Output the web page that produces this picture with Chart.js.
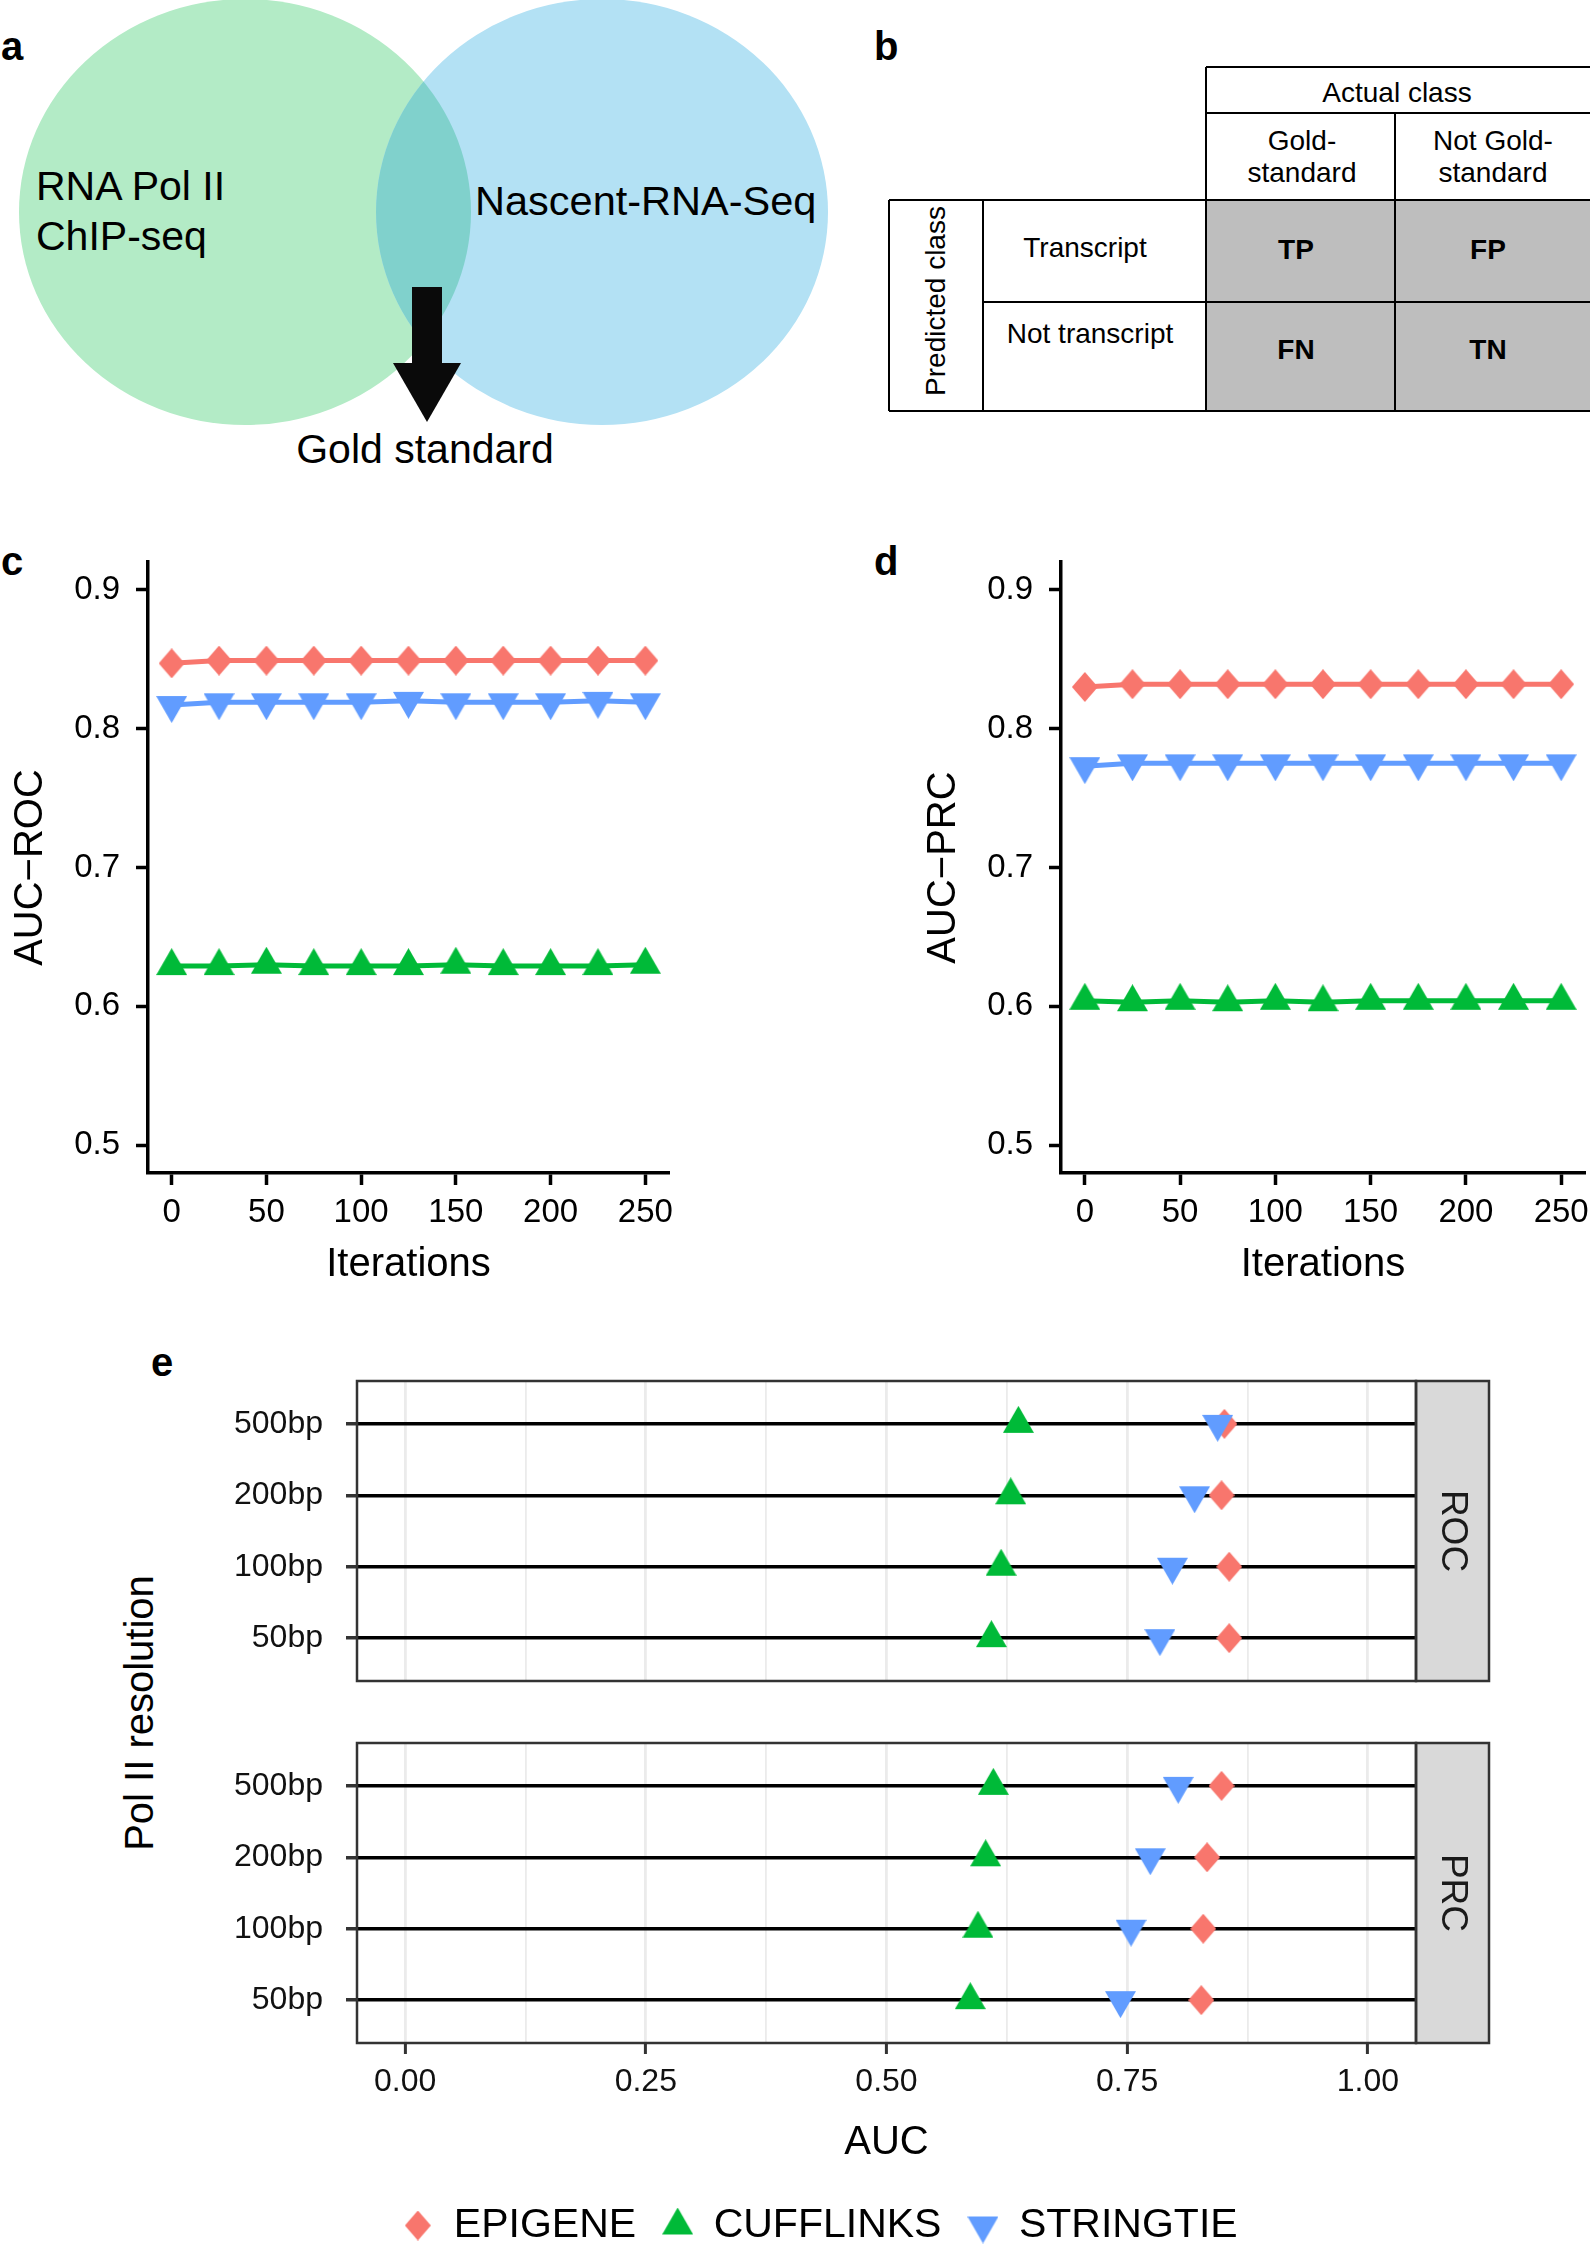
<!DOCTYPE html>
<html>
<head>
<meta charset="utf-8">
<script src="https://cdn.jsdelivr.net/npm/chart.js@4.4.1/dist/chart.umd.min.js"></script>
<style>
  html, body { margin: 0; padding: 0; background: #fff; }
  body { width: 1590px; height: 2245px; position: relative; overflow: hidden; font-family: "Liberation Sans", Arial, sans-serif; }
  canvas { position: absolute; }
  #art { position: absolute; left: 0; top: 0; font-family: "Liberation Sans", Arial, sans-serif; }
</style>
</head>
<body>
<svg id="art" width="1590" height="2245">
  <defs>
    <clipPath id="clipGreen"><ellipse cx="245" cy="212" rx="226" ry="213"/></clipPath>
  </defs>
  <!-- a: venn -->
  <ellipse cx="245" cy="212" rx="226" ry="213" fill="#b3ebc6"/>
  <ellipse cx="602" cy="212" rx="226" ry="213" fill="#b3e1f4"/>
  <ellipse cx="602" cy="212" rx="226" ry="213" fill="#80d1cc" clip-path="url(#clipGreen)"/>
  <rect x="412" y="287" width="30" height="78" fill="#0a0a0a"/>
  <polygon points="393,363 461,363 427,422" fill="#0a0a0a"/>
  <text x="36" y="186" font-size="41" dominant-baseline="central">RNA Pol II</text>
  <text x="36" y="236" font-size="41" dominant-baseline="central">ChIP-seq</text>
  <text x="475" y="200" font-size="41.5" dominant-baseline="central">Nascent-RNA-Seq</text>
  <text x="425" y="449" font-size="41" text-anchor="middle" dominant-baseline="central">Gold standard</text>

  <!-- b: confusion table -->
  <rect x="1206" y="200" width="384" height="211" fill="#bebebe"/>
  <g stroke="#000" stroke-width="2">
    <line x1="1206" y1="67" x2="1590" y2="67"/>
    <line x1="1206" y1="113" x2="1590" y2="113"/>
    <line x1="889" y1="200" x2="1590" y2="200"/>
    <line x1="983" y1="302" x2="1590" y2="302"/>
    <line x1="889" y1="411" x2="1590" y2="411"/>
    <line x1="1206" y1="67" x2="1206" y2="411"/>
    <line x1="1395" y1="113" x2="1395" y2="411"/>
    <line x1="889" y1="200" x2="889" y2="411"/>
    <line x1="983" y1="200" x2="983" y2="411"/>
  </g>
  <g font-size="28" text-anchor="middle" dominant-baseline="central">
    <text x="1397" y="92">Actual class</text>
    <text x="1302" y="140">Gold-</text>
    <text x="1302" y="172">standard</text>
    <text x="1493" y="140">Not Gold-</text>
    <text x="1493" y="172">standard</text>
    <text x="1085" y="247">Transcript</text>
    <text x="1090" y="333">Not transcript</text>
    <text x="935" y="301" transform="rotate(-90 935 301)">Predicted class</text>
    <g font-weight="bold">
      <text x="1296" y="249">TP</text>
      <text x="1488" y="249">FP</text>
      <text x="1296" y="349">FN</text>
      <text x="1488" y="349">TN</text>
    </g>
  </g>

  <!-- panel letters -->
  <g font-size="40" font-weight="bold" dominant-baseline="central">
    <text x="1" y="46">a</text>
    <text x="874" y="46">b</text>
    <text x="1" y="561">c</text>
    <text x="874" y="561">d</text>
    <text x="151" y="1362">e</text>
  </g>
  <text x="139" y="1713" font-size="40" text-anchor="middle" dominant-baseline="central" transform="rotate(-90 139 1713)">Pol II resolution</text>
</svg>

<canvas id="rocLine" width="700" height="760" style="left:0;top:540px"></canvas>
<canvas id="prcLine" width="677" height="760" style="left:913px;top:540px"></canvas>
<canvas id="rocDots" width="1440" height="350" style="left:150px;top:1340px"></canvas>
<canvas id="prcDots" width="1540" height="556" style="left:50px;top:1700px"></canvas>

<script>
// panels c and d: AUC over iterations
const iterations = [0, 25, 50, 75, 100, 125, 150, 175, 200, 225, 250];
const iterTicks = [0, 50, 100, 150, 200, 250];
const lineYTicks = [0.5, 0.6, 0.7, 0.8, 0.9];

const rocEpigene   = [0.847, 0.849, 0.849, 0.849, 0.849, 0.849, 0.849, 0.849, 0.849, 0.849, 0.849];
const rocCufflinks = [0.629, 0.629, 0.630, 0.629, 0.629, 0.629, 0.630, 0.629, 0.629, 0.629, 0.630];
const rocStringtie = [0.817, 0.819, 0.819, 0.819, 0.819, 0.820, 0.819, 0.819, 0.819, 0.820, 0.819];

const prcEpigene   = [0.830, 0.832, 0.832, 0.832, 0.832, 0.832, 0.832, 0.832, 0.832, 0.832, 0.832];
const prcCufflinks = [0.604, 0.603, 0.604, 0.603, 0.604, 0.603, 0.604, 0.604, 0.604, 0.604, 0.604];
const prcStringtie = [0.773, 0.775, 0.775, 0.775, 0.775, 0.775, 0.775, 0.775, 0.775, 0.775, 0.775];

// panel e: AUC by Pol II resolution (bottom to top)
const resolutions = ['50bp', '100bp', '200bp', '500bp'];
const aucGrid = [0, 0.125, 0.25, 0.375, 0.5, 0.625, 0.75, 0.875, 1];

const resRocEpigene   = [0.856, 0.856, 0.848, 0.851];
const resRocCufflinks = [0.609, 0.619, 0.629, 0.637];
const resRocStringtie = [0.784, 0.797, 0.820, 0.844];

const resPrcEpigene   = [0.827, 0.829, 0.833, 0.848];
const resPrcCufflinks = [0.587, 0.595, 0.603, 0.611];
const resPrcStringtie = [0.743, 0.754, 0.774, 0.803];

Chart.defaults.font.family = '"Liberation Sans", Arial, sans-serif';
Chart.defaults.color = '#000';

const colors = { EPIGENE: '#F8766D', CUFFLINKS: '#00BA38', STRINGTIE: '#619CFF' };
// drawing order: stringtie on top, like ggplot
const drawOrder = { EPIGENE: 3, CUFFLINKS: 2, STRINGTIE: 1 };

// ggplot-like point shapes as small canvases (centred on the centroid)
function marker(shape, color) {
  const c = document.createElement('canvas');
  const w = shape === 'diamond' ? 26 : 31;
  const h = shape === 'diamond' ? 30 : 27;
  const H = shape === 'diamond' ? h : Math.round(h * 4 / 3);
  c.width = w; c.height = H;
  const g = c.getContext('2d');
  g.fillStyle = color;
  g.beginPath();
  if (shape === 'diamond') {
    g.moveTo(w / 2, 0); g.lineTo(w, h / 2); g.lineTo(w / 2, h); g.lineTo(0, h / 2);
  } else if (shape === 'up') {
    g.moveTo(w / 2, 0); g.lineTo(w, h); g.lineTo(0, h);
  } else {
    g.moveTo(0, H - h); g.lineTo(w, H - h); g.lineTo(w / 2, H);
  }
  g.closePath();
  g.fill();
  return c;
}
const shapes = {
  EPIGENE: marker('diamond', colors.EPIGENE),
  CUFFLINKS: marker('up', colors.CUFFLINKS),
  STRINGTIE: marker('down', colors.STRINGTIE)
};

const fixWidth = w => s => { s.width = w; s.paddingTop = 0; s.paddingBottom = 0; };
const fixHeight = h => s => { s.height = h; s.paddingLeft = 0; s.paddingRight = 0; };
const setTicks = vals => s => { s.ticks = vals.map(value => ({ value })); };
const isMajor = v => Math.abs(v * 4 - Math.round(v * 4)) < 1e-6;

function lineSet(name, ys) {
  return {
    label: name,
    data: iterations.map((x, i) => ({ x, y: ys[i] })),
    borderColor: colors[name],
    backgroundColor: colors[name],
    borderWidth: 5,
    pointStyle: shapes[name],
    pointRadius: 14,
    pointBorderWidth: 0,
    tension: 0,
    order: drawOrder[name]
  };
}

function iterChart(id, yTitle, epi, cuff, str, padRight) {
  return new Chart(document.getElementById(id), {
    type: 'line',
    data: { datasets: [lineSet('EPIGENE', epi), lineSet('CUFFLINKS', cuff), lineSet('STRINGTIE', str)] },
    options: {
      responsive: false,
      animation: false,
      layout: { autoPadding: false, padding: { top: 22, right: padRight, bottom: 0, left: 0 } },
      plugins: { legend: { display: false }, tooltip: { enabled: false } },
      scales: {
        x: {
          type: 'linear', min: -12.5, max: 262.5,
          afterBuildTicks: setTicks(iterTicks),
          afterFit: fixHeight(127),
          border: { color: '#000', width: 3.5 },
          grid: { drawOnChartArea: false, tickLength: 12, tickColor: '#000', tickWidth: 3.5 },
          ticks: { font: { size: 33 }, color: '#000', padding: 8, maxRotation: 0, minRotation: 0, autoSkip: false },
          title: { display: true, text: 'Iterations', font: { size: 40 }, color: '#000', padding: { top: 0, bottom: 11 } }
        },
        y: {
          type: 'linear', min: 0.48, max: 0.92,
          afterBuildTicks: setTicks(lineYTicks),
          afterFit: fixWidth(148),
          border: { color: '#000', width: 3.5 },
          grid: { drawOnChartArea: false, tickLength: 12, tickColor: '#000', tickWidth: 3.5 },
          ticks: { font: { size: 33 }, color: '#000', padding: 16, callback: v => v.toFixed(1) },
          title: { display: true, text: yTitle, font: { size: 40 }, color: '#000', padding: { top: 7, bottom: 0 } }
        }
      }
    }
  });
}

iterChart('rocLine', 'AUC\u2212ROC', rocEpigene, rocCufflinks, rocStringtie, 31);
iterChart('prcLine', 'AUC\u2212PRC', prcEpigene, prcCufflinks, prcStringtie, 5);

// facet frame + grey strip on the right
const facetStrip = {
  id: 'facetStrip',
  afterDraw(chart, args, o) {
    const { ctx, chartArea: a } = chart;
    ctx.save();
    ctx.fillStyle = '#d9d9d9';
    ctx.fillRect(a.right, a.top, o.width, a.bottom - a.top);
    ctx.lineWidth = 2.5;
    ctx.strokeStyle = '#333';
    ctx.strokeRect(a.left, a.top, a.right - a.left, a.bottom - a.top);
    ctx.strokeRect(a.right, a.top, o.width, a.bottom - a.top);
    ctx.translate(a.right + o.width / 2, (a.top + a.bottom) / 2);
    ctx.rotate(Math.PI / 2);
    ctx.fillStyle = '#1a1a1a';
    ctx.font = '37px "Liberation Sans", Arial, sans-serif';
    ctx.textAlign = 'center';
    ctx.textBaseline = 'middle';
    ctx.fillText(o.label, 0, 0);
    ctx.restore();
  }
};

function dotSet(name, vals) {
  return {
    label: name,
    data: vals.map((v, i) => ({ x: v, y: i + 1 })),
    backgroundColor: colors[name],
    borderColor: colors[name],
    pointStyle: shapes[name],
    pointRadius: 14,
    pointBorderWidth: 0,
    order: drawOrder[name]
  };
}

function facetChart(id, facet, epi, cuff, str, cfg) {
  const bottom = cfg.bottom;
  return new Chart(document.getElementById(id), {
    type: 'scatter',
    data: { datasets: [dotSet('EPIGENE', epi), dotSet('CUFFLINKS', cuff), dotSet('STRINGTIE', str)] },
    options: {
      responsive: false,
      animation: false,
      layout: { autoPadding: false, padding: { top: cfg.top, right: 0, bottom: cfg.padBottom, left: 0 } },
      plugins: {
        tooltip: { enabled: false },
        facetStrip: { label: facet, width: 73 },
        legend: bottom ? {
          display: true,
          position: 'bottom',
          labels: {
            usePointStyle: true,
            pointStyleWidth: 31,
            font: { size: 41 },
            color: '#000',
            padding: 26,
            sort: (a, b) => a.datasetIndex - b.datasetIndex
          }
        } : { display: false }
      },
      scales: {
        x: {
          type: 'linear', min: -0.05, max: 1.05,
          afterBuildTicks: setTicks(aucGrid),
          afterFit: fixHeight(bottom ? 136 : 0),
          border: { display: false },
          grid: {
            z: -2,
            color: '#ebebeb',
            lineWidth: c => isMajor(c.tick.value) ? 2.8 : 1.8,
            drawTicks: bottom,
            tickLength: 11,
            tickWidth: 3,
            tickColor: c => isMajor(c.tick.value) ? '#333' : 'rgba(0,0,0,0)'
          },
          ticks: {
            display: bottom,
            font: { size: 32 }, color: '#111', padding: 9,
            maxRotation: 0, minRotation: 0, autoSkip: false,
            callback: v => isMajor(v) ? v.toFixed(2) : ''
          },
          title: { display: bottom, text: 'AUC', font: { size: 40 }, color: '#000', padding: { top: 0, bottom: 12 } }
        },
        y: {
          type: 'linear', min: 0.4, max: 4.6,
          afterBuildTicks: setTicks(resolutions.map((r, i) => i + 1)),
          afterFit: fixWidth(cfg.yWidth),
          border: { display: false },
          grid: { z: -1, color: '#000', lineWidth: 3.5, tickLength: 11, tickWidth: 3.5, tickColor: '#333' },
          ticks: { font: { size: 32 }, color: '#111', padding: 23, autoSkip: false, callback: v => resolutions[v - 1] }
        },
        strip: {
          type: 'linear', position: 'right',
          afterFit: fixWidth(174),
          grid: { display: false },
          border: { display: false },
          ticks: { display: false }
        }
      }
    },
    plugins: [facetStrip]
  });
}

facetChart('rocDots', 'ROC', resRocEpigene, resRocCufflinks, resRocStringtie,
  { top: 41, padBottom: 9, yWidth: 207, bottom: false });
facetChart('prcDots', 'PRC', resPrcEpigene, resPrcCufflinks, resPrcStringtie,
  { top: 43, padBottom: 0, yWidth: 307, bottom: true });
</script>
</body>
</html>
